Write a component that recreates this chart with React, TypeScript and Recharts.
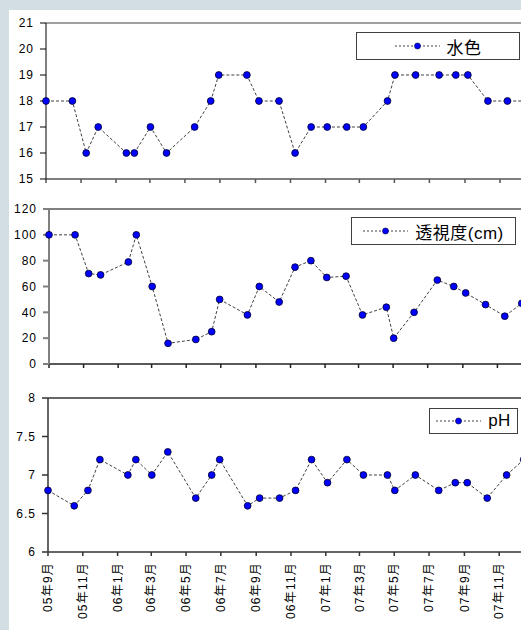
import { Line, LineChart, ReferenceLine, XAxis, YAxis } from "recharts";

// sampling dates
const DATES = [
  "2005-09-01", "2005-10-17", "2005-11-10", "2005-12-01", "2006-01-19", "2006-02-02",
  "2006-03-02", "2006-03-30", "2006-05-18", "2006-06-15", "2006-06-29", "2006-08-17",
  "2006-09-07", "2006-10-12", "2006-11-09", "2006-12-07", "2007-01-04", "2007-02-07",
  "2007-03-08", "2007-04-19", "2007-05-02", "2007-06-07", "2007-07-18", "2007-08-16",
  "2007-09-06", "2007-10-11", "2007-11-14", "2007-12-14",
];

const WATER_COLOR = [18, 18, 16, 17, 16, 16, 17, 16, 17, 18, 19, 19, 18, 18, 16, 17, 17, 17, 17, 18, 19, 19, 19, 19, 19, 18, 18, 18];
const TRANSPARENCY = [100, 100, 70, 69, 79, 100, 60, 16, 19, 25, 50, 38, 60, 48, 75, 80, 67, 68, 38, 44, 20, 40, 65, 60, 55, 46, 37, 47];
const PH = [6.8, 6.6, 6.8, 7.2, 7.0, 7.2, 7.0, 7.3, 6.7, 7.0, 7.2, 6.6, 6.7, 6.7, 6.8, 7.2, 6.9, 7.2, 7.0, 7.0, 6.8, 7.0, 6.8, 6.9, 6.9, 6.7, 7.0, 7.2];

const TICK_DATES = [
  "2005-09-01", "2005-11-01", "2006-01-01", "2006-03-01", "2006-05-01", "2006-07-01", "2006-09-01",
  "2006-11-01", "2007-01-01", "2007-03-01", "2007-05-01", "2007-07-01", "2007-09-01", "2007-11-01",
];
const TICK_LABELS = [
  "05年9月", "05年11月", "06年1月", "06年3月", "06年5月", "06年7月", "06年9月",
  "06年11月", "07年1月", "07年3月", "07年5月", "07年7月", "07年9月", "07年11月",
];
const AXIS_END = "2008-01-01";

const START = Date.parse(DATES[0]);
const toDay = (s: string) => Math.round((Date.parse(s) - START) / 86400000);
const TICK_DAYS = TICK_DATES.map(toDay);
const X_MAX = toDay(AXIS_END);

const data = DATES.map((d, i) => ({
  day: toDay(d),
  water: WATER_COLOR[i],
  trans: TRANSPARENCY[i],
  ph: PH[i],
}));

const FONT = "'Liberation Sans', Arial, 'Noto Sans CJK JP', sans-serif";
const BLUE = "#0000ff";

const Dot = (props: any) => {
  const { cx, cy } = props;
  if (cx == null || cy == null) return null;
  return <circle cx={cx} cy={cy} r={3.4} fill={BLUE} stroke="#00002a" strokeWidth={0.8} />;
};

const NoTick = () => <g />;

const DateTick = ({ x, y, payload }: any) => {
  const i = TICK_DAYS.indexOf(payload.value);
  return (
    <text
      x={x}
      y={y}
      transform={`rotate(-90 ${x} ${y})`}
      textAnchor="end"
      dy="0.35em"
      fontSize={12}
      letterSpacing={1.2}
      fontFamily={FONT}
      fill="#000"
    >
      {TICK_LABELS[i]}
    </text>
  );
};

const LegendBox = ({ name, left, top, width, height }: any) => (
  <div
    style={{
      position: "absolute",
      left,
      top,
      width,
      height,
      border: "1px solid #404040",
      background: "#fff",
      boxSizing: "border-box",
      display: "flex",
      alignItems: "center",
      justifyContent: "center",
      fontFamily: FONT,
      fontSize: 17,
      letterSpacing: 0.5,
      color: "#000",
    }}
  >
    <svg width={45} height={10} style={{ marginRight: 7 }}>
      <line x1={0} y1={5} x2={45} y2={5} stroke="#404040" strokeDasharray="2 2" />
      <circle cx={22.5} cy={5} r={3} fill={BLUE} stroke="#00002a" strokeWidth={0.6} />
    </svg>
    <span>{name}</span>
  </div>
);

const yTick = { fill: "#000", fontSize: 12, letterSpacing: 1, fontFamily: FONT };

export default function App() {
  return (
    <div
      style={{
        position: "absolute",
        left: 0,
        top: 0,
        width: 521,
        height: 630,
        overflow: "hidden",
        background: "#d3dee2",
      }}
    >
      <div style={{ position: "absolute", left: 9, top: 10, width: 600, height: 700, background: "#fff" }} />

      {/* 水色 */}
      <div style={{ position: "absolute", left: 0, top: 0 }}>
        <LineChart width={535} height={190} data={data} margin={{ top: 23, right: 0, bottom: 0, left: 0 }}>
          <XAxis
            dataKey="day"
            type="number"
            domain={[0, X_MAX]}
            ticks={TICK_DAYS}
            tick={<NoTick />}
            tickSize={4}
            height={11}
            stroke="#555"
            strokeWidth={1.5}
          />
          <YAxis
            domain={[15, 21]}
            ticks={[15, 16, 17, 18, 19, 20, 21]}
            width={46}
            tickSize={6}
            tickMargin={6}
            tick={yTick}
            stroke="#000"
          />
          <ReferenceLine y={21} stroke="#808080" strokeWidth={1.5} ifOverflow="visible" />
          <Line
            dataKey="water"
            stroke="#404040"
            strokeDasharray="3 2"
            strokeWidth={1}
            dot={<Dot />}
            isAnimationActive={false}
          />
        </LineChart>
        <LegendBox name="水色" left={356} top={32} width={164} height={28} />
      </div>

      {/* 透視度 */}
      <div style={{ position: "absolute", left: 0, top: 190 }}>
        <LineChart width={532} height={190} data={data} margin={{ top: 19, right: 0, bottom: 0, left: 0 }}>
          <XAxis
            dataKey="day"
            type="number"
            domain={[0, X_MAX]}
            ticks={TICK_DAYS}
            tick={<NoTick />}
            tickSize={4}
            height={16}
            stroke="#222"
            strokeWidth={1.5}
          />
          <YAxis
            domain={[0, 120]}
            ticks={[0, 20, 40, 60, 80, 100, 120]}
            width={49}
            tickSize={6}
            tickMargin={6}
            tick={yTick}
            stroke="#808080"
            strokeWidth={2}
          />
          <ReferenceLine y={120} stroke="#000" strokeWidth={1} ifOverflow="visible" />
          <Line
            dataKey="trans"
            stroke="#404040"
            strokeDasharray="3 2"
            strokeWidth={1}
            dot={<Dot />}
            isAnimationActive={false}
          />
        </LineChart>
        <LegendBox name="透視度(cm)" left={351} top={27} width={165} height={28} />
      </div>

      {/* pH */}
      <div style={{ position: "absolute", left: 0, top: 380 }}>
        <LineChart width={534} height={250} data={data} margin={{ top: 18, right: 0, bottom: 0, left: 0 }}>
          <XAxis
            dataKey="day"
            type="number"
            domain={[0, X_MAX]}
            ticks={TICK_DAYS}
            tick={<DateTick />}
            tickSize={4}
            tickMargin={6}
            height={78}
            interval={0}
            stroke="#333"
            strokeWidth={1.5}
          />
          <YAxis
            domain={[6, 8]}
            ticks={[6, 6.5, 7, 7.5, 8]}
            width={48}
            tickSize={6}
            tickMargin={6}
            tick={yTick}
            stroke="#333"
            strokeWidth={1.5}
          />
          <ReferenceLine y={8} stroke="#333" strokeWidth={1.5} ifOverflow="visible" />
          <Line
            dataKey="ph"
            stroke="#404040"
            strokeDasharray="3 2"
            strokeWidth={1}
            dot={<Dot />}
            isAnimationActive={false}
          />
        </LineChart>
        <LegendBox name="pH" left={429} top={28} width={89} height={26} />
      </div>
    </div>
  );
}
